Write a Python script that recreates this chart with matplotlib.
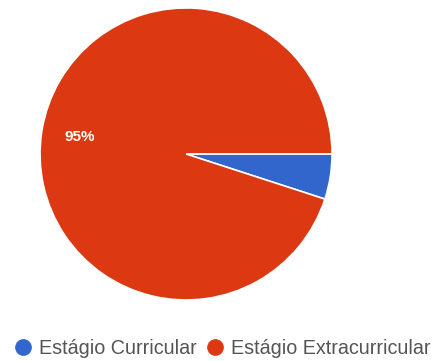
import matplotlib.pyplot as plt
from matplotlib.lines import Line2D

labels = ["Estágio Curricular", "Estágio Extracurricular"]
values = [5, 95]
colors = ["#3366cc", "#dc3912"]

plt.rcParams['font.family'] = ['Liberation Sans', 'DejaVu Sans']

fig = plt.figure(figsize=(4.36, 3.61), dpi=100)
ax = fig.add_axes([0.0917, 0.169, 0.670, 0.809])

# Google-style: hide percentages on small slices
def pct_label(p):
    return f"{p:.0f}%" if p >= 10 else ""

wedges, texts, autotexts = ax.pie(
    values, colors=colors, startangle=0, counterclock=False,
    autopct=pct_label, pctdistance=0.74,
    wedgeprops=dict(edgecolor="white", linewidth=1.2))
for t in autotexts:
    t.set_color("white")
    t.set_fontsize(11)
    t.set_fontweight("bold")
ax.set_xlim(-1, 1)
ax.set_ylim(-1, 1)
ax.set_aspect("equal")

handles = [Line2D([0], [0], marker="o", linestyle="", markersize=11,
                  markerfacecolor=c, markeredgecolor=c) for c in colors]
fig.legend(handles, labels, loc="center", bbox_to_anchor=(0.509, 0.034),
           ncol=2, frameon=False, fontsize=14.2, handletextpad=0.3,
           columnspacing=0.45, labelcolor="#555555", handlelength=1.0,
           borderpad=0.0)

fig.savefig("out.png", dpi=100)
